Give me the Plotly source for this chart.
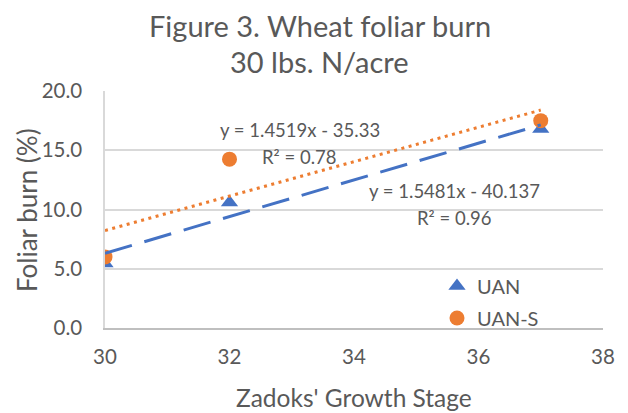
import numpy as np
import plotly.graph_objects as go

stages = [30, 32, 37]
uan = [5.45, 10.6, 16.8]
uan_s = [6.0, 14.25, 17.5]
x_ticks = [30, 32, 34, 36, 38]
y_ticks = [0, 5, 10, 15, 20]

BLUE = "#4472C4"
ORANGE = "#ED7D31"
GREY = "#595959"
FONT = "Lato"

# the page body adds an 8px margin, so the figure is drawn 8px smaller and offset
OFF = 8
W, H = 628 - OFF, 413 - OFF
ml, mt = 105 - OFF, 91 - OFF
pw, ph = 498, 237
mr, mb = W - ml - pw, H - mt - ph


def px_x(p):
    return (p - OFF - ml) / pw


def px_y(p):
    return (mt + ph - (p - OFF)) / ph


def fit(xs, ys):
    m, b = np.polyfit(xs, ys, 1)
    pred = np.polyval([m, b], xs)
    ss_res = np.sum((np.array(ys) - pred) ** 2)
    ss_tot = np.sum((np.array(ys) - np.mean(ys)) ** 2)
    return m, b, 1 - ss_res / ss_tot


fig = go.Figure()
fig.add_trace(go.Scatter(x=stages, y=uan, mode="markers", name="UAN",
                         marker=dict(symbol="triangle-up", size=15, color=BLUE),
                         legend="legend"))
fig.add_trace(go.Scatter(x=stages, y=uan_s, mode="markers", name="UAN-S",
                         marker=dict(symbol="circle", size=15, color=ORANGE),
                         legend="legend2"))

m1, b1, r1 = fit(stages, uan)
m2, b2, r2 = fit(stages, uan_s)
xs_line = [min(stages), max(stages)]
fig.add_trace(go.Scatter(x=xs_line, y=[m1 * v + b1 for v in xs_line], mode="lines",
                         line=dict(color=BLUE, width=3, dash="28px,13px"),
                         showlegend=False, hoverinfo="skip"))
fig.add_trace(go.Scatter(x=xs_line, y=[m2 * v + b2 for v in xs_line], mode="lines",
                         line=dict(color=ORANGE, width=3, dash="3px,4.5px"),
                         showlegend=False, hoverinfo="skip"))

ann_font = dict(family=FONT, size=18.5, color=GREY)
fig.add_annotation(x=33.13, y=16.7, text="y = 1.4519x - 35.33", showarrow=False, font=ann_font)
fig.add_annotation(x=33.13, y=14.4, text="R² = 0.78", showarrow=False, font=ann_font)
fig.add_annotation(x=35.62, y=11.55, text="y = 1.5481x - 40.137", showarrow=False, font=ann_font)
fig.add_annotation(x=35.62, y=9.25, text="R² = 0.96", showarrow=False, font=ann_font)

# chart title (two lines)
title_font = dict(family=FONT, size=29, color=GREY)
fig.add_annotation(xref="paper", yref="paper", x=px_x(320), y=px_y(25), text="Figure 3. Wheat foliar burn",
                   showarrow=False, font=title_font, xanchor="center", yanchor="middle", borderpad=0)
fig.add_annotation(xref="paper", yref="paper", x=px_x(319), y=px_y(62), text="30 lbs. N/acre",
                   showarrow=False, font=title_font, xanchor="center", yanchor="middle", borderpad=0)

# axis titles
fig.add_annotation(xref="paper", yref="paper", x=px_x(354), y=px_y(397), text="Zadoks' Growth Stage",
                   showarrow=False, font=dict(family=FONT, size=24.5, color=GREY),
                   xanchor="center", yanchor="middle")
fig.add_annotation(xref="paper", yref="paper", x=px_x(27), y=px_y(210), text="Foliar burn (%)",
                   showarrow=False, font=dict(family=FONT, size=26, color=GREY),
                   xanchor="center", yanchor="middle", textangle=-90)

# chart-area border on the left
fig.add_shape(type="line", xref="paper", yref="paper",
              x0=px_x(6), x1=px_x(6), y0=px_y(411), y1=px_y(12),
              line=dict(color="#d9d9d9", width=1.5))

fig.update_layout(
    width=W, height=H,
    margin=dict(l=ml, r=mr, t=mt, b=mb, autoexpand=False),
    paper_bgcolor="white", plot_bgcolor="white",
    font=dict(family=FONT, color=GREY),
    showlegend=True,
    xaxis=dict(range=[30, 38], tickvals=x_ticks, showgrid=False, zeroline=False,
               showline=True, linecolor="#bfbfbf", linewidth=1.5, automargin=False,
               tickfont=dict(size=20.5, color=GREY), ticks="", ticklabelstandoff=10),
    yaxis=dict(range=[0, 20], tickvals=y_ticks, tickformat=".1f", showgrid=True,
               gridcolor="#d9d9d9", gridwidth=1.5, zeroline=False, automargin=False,
               showline=True, linecolor="#d9d9d9", linewidth=1.5,
               tickfont=dict(size=20.5, color=GREY), ticks="", ticklabelstandoff=17),
    legend=dict(x=px_x(437), y=px_y(286), xanchor="left", yanchor="middle",
                bgcolor="rgba(0,0,0,0)", font=dict(size=20, color=GREY, family=FONT)),
    legend2=dict(x=px_x(437), y=px_y(318), xanchor="left", yanchor="middle",
                 bgcolor="rgba(0,0,0,0)", font=dict(size=20, color=GREY, family=FONT)),
)

fig.write_html("out.html")
